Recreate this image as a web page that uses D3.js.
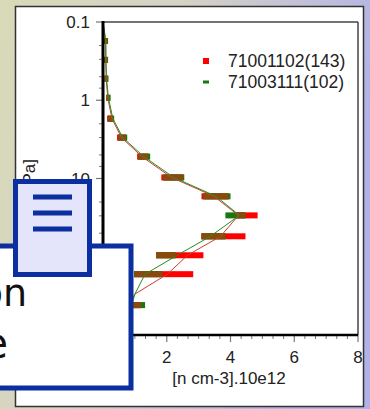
<!DOCTYPE html>
<html>
<head>
<meta charset="utf-8">
<script src="https://cdn.jsdelivr.net/npm/d3@7"></script>
<style>
  body { margin: 0; overflow: hidden; }
  svg { display: block; }
</style>
</head>
<body>
<div id="chart"></div>
<script>
// pressure levels [hPa] of the bars
const levels = [0.175, 0.305, 0.53, 0.93, 1.72, 3.0, 5.25, 9.7, 16.9, 29.6, 54.8, 95.7, 167, 415];
// bar extents, n [cm-3].10e12
const redLo   = [0.03, 0.04, 0.05, 0.10, 0.13, 0.44, 1.07, 1.83, 3.09, 4.16, 3.09, 1.67, 0.98, 0.60];
const redHi   = [0.15, 0.15, 0.16, 0.20, 0.32, 0.72, 1.42, 2.52, 3.94, 4.85, 4.47, 3.15, 2.83, 1.20];
const greenLo = [0.04, 0.04, 0.05, 0.11, 0.15, 0.47, 1.10, 1.89, 3.15, 3.84, 3.09, 1.67, 0.98, 0.69];
const greenHi = [0.16, 0.16, 0.17, 0.24, 0.35, 0.76, 1.48, 2.55, 4.00, 4.47, 3.84, 2.27, 1.86, 1.32];
// profile lines
const lineLevels = [0.1, 0.175, 0.305, 0.53, 0.93, 1.72, 3.0, 5.25, 9.7, 16.9, 29.6, 54.8, 95.7, 167, 300, 415];
const redLine    = [0.0, 0.08, 0.09, 0.10, 0.15, 0.28, 0.58, 1.22, 2.15, 3.48, 4.25, 3.69, 2.65, 2.02, 1.00, 0.80];
const greenLine  = [0.0, 0.09, 0.09, 0.11, 0.17, 0.31, 0.62, 1.28, 2.22, 3.55, 4.28, 3.37, 2.33, 1.32, 1.00, 0.90];
const yTicks = [0.1, 1, 10, 100, 1000];
const xTicks = [2, 4, 6, 8];
const legendNames = ["71001102(143)", "71003111(102)"];

const W = 370, H = 409;
const plot = {left: 103, right: 358, top: 22, bottom: 335};

const svg = d3.select("#chart").append("svg")
  .attr("width", W).attr("height", H);

// textured page background, approximated by a gradient
const defs = svg.append("defs");
const grad = defs.append("linearGradient").attr("id", "bg").attr("x1", 0).attr("x2", 1).attr("y1", 0).attr("y2", 0.3);
grad.append("stop").attr("offset", "0%").attr("stop-color", "#d8dab8");
grad.append("stop").attr("offset", "45%").attr("stop-color", "#d6d2c6");
grad.append("stop").attr("offset", "100%").attr("stop-color", "#b2b2e6");
svg.append("rect").attr("width", W).attr("height", H).attr("fill", "url(#bg)");

// white chart panel
svg.append("rect")
  .attr("x", 15.5).attr("y", 6.5).attr("width", 348).attr("height", 400)
  .attr("fill", "#fff").attr("stroke", "#333").attr("stroke-width", 1.5);

const x = d3.scaleLinear().domain([0, 8]).range([plot.left, plot.right]);
const y = d3.scaleLog().domain([0.1, 1000]).range([plot.top, plot.bottom]);

// plot frame (top / right)
svg.append("line").attr("x1", plot.left).attr("x2", plot.right).attr("y1", plot.top).attr("y2", plot.top)
  .attr("stroke", "#444").attr("stroke-width", 1.5);
svg.append("line").attr("x1", plot.right).attr("x2", plot.right).attr("y1", plot.top).attr("y2", plot.bottom)
  .attr("stroke", "#444").attr("stroke-width", 1.5);

// bars
const barH = 6;
const bars = svg.append("g");
levels.forEach((p, i) => {
  const yy = y(p) - barH / 2;
  bars.append("rect")
    .attr("x", x(redLo[i])).attr("y", yy)
    .attr("width", x(redHi[i]) - x(redLo[i])).attr("height", barH)
    .attr("fill", "#ff0000");
  bars.append("rect")
    .attr("x", x(greenLo[i])).attr("y", yy)
    .attr("width", x(greenHi[i]) - x(greenLo[i])).attr("height", barH)
    .attr("fill", "#16780e");
  // where the two bars overlap the colours mix to brown
  const lo = Math.max(redLo[i], greenLo[i]), hi = Math.min(redHi[i], greenHi[i]);
  if (hi > lo) {
    bars.append("rect")
      .attr("x", x(lo)).attr("y", yy)
      .attr("width", x(hi) - x(lo)).attr("height", barH)
      .attr("fill", "#8a4a0e");
  }
});

// profile lines
const line = d3.line()
  .x(d => x(d[1]))
  .y(d => y(d[0]));
svg.append("path")
  .datum(lineLevels.map((p, i) => [p, redLine[i]]))
  .attr("fill", "none").attr("stroke", "#c8402c").attr("stroke-width", 1)
  .attr("d", line);
svg.append("path")
  .datum(lineLevels.map((p, i) => [p, greenLine[i]]))
  .attr("fill", "none").attr("stroke", "#2a8a22").attr("stroke-width", 1)
  .attr("d", line);

// y axis
const yMinor = [];
[0.1, 1, 10, 100].forEach(d => [2, 3, 5, 7].forEach(m => yMinor.push(d * m)));
svg.append("g").selectAll("line").data(yMinor).join("line")
  .attr("x1", plot.left - 4).attr("x2", plot.left)
  .attr("y1", d => y(d)).attr("y2", d => y(d))
  .attr("stroke", "#777").attr("stroke-width", 1);
svg.append("g").selectAll("line").data(yTicks).join("line")
  .attr("x1", plot.left - 7).attr("x2", plot.left)
  .attr("y1", d => y(d)).attr("y2", d => y(d))
  .attr("stroke", "#777").attr("stroke-width", 1.2);
svg.append("g").selectAll("text").data(yTicks).join("text")
  .attr("x", 90).attr("y", d => y(d)).attr("dy", "0.36em")
  .attr("text-anchor", "end")
  .style("font-family", "Liberation Sans, Arial, sans-serif").style("font-size", "17px").style("fill", "#222")
  .text(d => d);
svg.append("line").attr("x1", plot.left).attr("x2", plot.left).attr("y1", plot.top - 1).attr("y2", plot.bottom + 1)
  .attr("stroke", "#000").attr("stroke-width", 3);

svg.append("text")
  .attr("transform", `translate(35,159) rotate(-90)`)
  .attr("text-anchor", "end")
  .style("font-family", "Liberation Sans, Arial, sans-serif").style("font-size", "17px").style("fill", "#222")
  .text("Pressure [hPa]");

// x axis
const xMinor = d3.range(0, 25).map(i => i * 8 / 24).filter(v => v % 2 > 0.01);
svg.append("g").selectAll("line").data(xMinor).join("line")
  .attr("x1", d => x(d)).attr("x2", d => x(d))
  .attr("y1", plot.bottom).attr("y2", plot.bottom + 4)
  .attr("stroke", "#777").attr("stroke-width", 1);
svg.append("g").selectAll("line").data([0].concat(xTicks)).join("line")
  .attr("x1", d => x(d)).attr("x2", d => x(d))
  .attr("y1", plot.bottom).attr("y2", plot.bottom + 7)
  .attr("stroke", "#777").attr("stroke-width", 1.2);
svg.append("g").selectAll("text").data(xTicks).join("text")
  .attr("x", d => x(d)).attr("y", 363)
  .attr("text-anchor", "middle")
  .style("font-family", "Liberation Sans, Arial, sans-serif").style("font-size", "17px").style("fill", "#222")
  .text(d => d);
svg.append("line").attr("x1", plot.left).attr("x2", plot.right).attr("y1", plot.bottom).attr("y2", plot.bottom)
  .attr("stroke", "#000").attr("stroke-width", 2.5);
svg.append("text")
  .attr("x", 229).attr("y", 384)
  .attr("text-anchor", "middle")
  .style("font-family", "Liberation Sans, Arial, sans-serif").style("font-size", "17px").style("fill", "#222")
  .text("[n cm-3].10e12");

// legend
const legendColors = ["#ff0000", "#16780e"];
const legend = svg.append("g").attr("transform", "translate(203,61)");
legendNames.forEach((name, i) => {
  const g = legend.append("g").attr("transform", `translate(0,${i * 21})`);
  if (i === 0) {
    g.append("rect").attr("x", 0).attr("y", -3).attr("width", 6).attr("height", 6).attr("fill", legendColors[i]);
  } else {
    g.append("rect").attr("x", 0).attr("y", -1.5).attr("width", 6).attr("height", 3).attr("fill", legendColors[i]);
  }
  g.append("text")
    .attr("x", 25).attr("y", 0).attr("dy", "0.36em")
    .style("font-family", "Liberation Sans, Arial, sans-serif").style("font-size", "17.5px").style("fill", "#222")
    .text(name);
});

// page overlay: text box and menu button
const navy = "#0b2ea0";
svg.append("rect")
  .attr("x", -10).attr("y", 246).attr("width", 141).attr("height", 142)
  .attr("fill", "#fff").attr("stroke", navy).attr("stroke-width", 5);
svg.append("text").attr("x", 27).attr("y", 306).attr("text-anchor", "end")
  .style("font-family", "DejaVu Sans, sans-serif").style("font-size", "38px").style("fill", "#111")
  .text("on");
svg.append("text").attr("x", 8).attr("y", 358).attr("text-anchor", "end")
  .style("font-family", "DejaVu Sans, sans-serif").style("font-size", "42px").style("fill", "#111")
  .text("e");

svg.append("rect")
  .attr("x", 15.5).attr("y", 181.5).attr("width", 74).attr("height", 93)
  .attr("fill", "#e4e4fa").attr("stroke", navy).attr("stroke-width", 5);
[197, 213, 229].forEach(yy => {
  svg.append("rect").attr("x", 33).attr("y", yy - 2.5).attr("width", 39).attr("height", 5).attr("fill", navy);
});
</script>
</body>
</html>
